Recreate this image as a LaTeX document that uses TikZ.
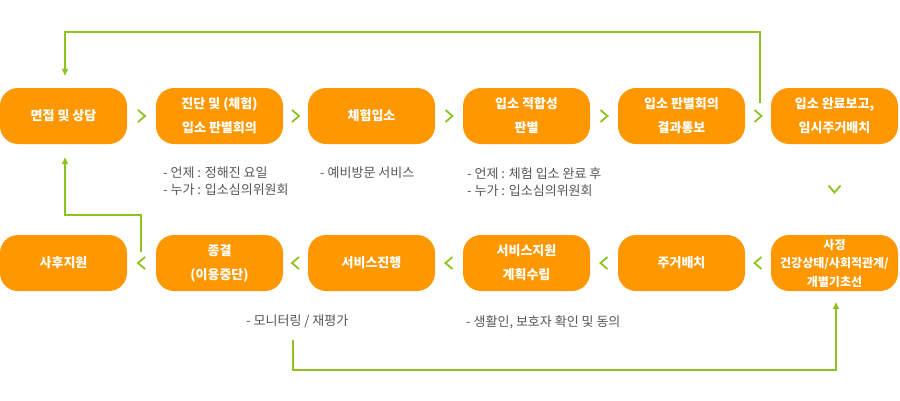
\documentclass[tikz,border=0pt]{standalone}
\usepackage{fontspec}
\setmainfont{Noto Sans CJK KR}
\newfontfamily\kr{Noto Sans CJK KR}
\usetikzlibrary{calc,arrows.meta}
\definecolor{boxor}{HTML}{FF9800}
\definecolor{lgreen}{HTML}{8DC21F}
\definecolor{txtgray}{HTML}{555555}
\tikzset{
  stepbox/.style={fill=boxor, draw=none, rounded corners=18pt, minimum width=127pt, minimum height=56pt,
    text=white, align=center, font=\kr\bfseries\fontsize{13}{24}\selectfont, inner sep=0pt},
  smallbox/.style={stepbox, font=\kr\bfseries\fontsize{12}{18.5}\selectfont},
  note/.style={anchor=north west, align=left, text=txtgray, font=\kr\fontsize{13}{17}\selectfont, inner sep=0pt},
  chev/.style={draw=lgreen, line width=1.8pt, line cap=butt, line join=miter},
  loop/.style={draw=lgreen, line width=2pt},
  looparrow/.style={loop, -{Triangle[width=6pt,length=7pt]}},
}
\begin{document}
\begin{tikzpicture}[x=1pt,y=-1pt]
\useasboundingbox (0,0) rectangle (900,400);
% top row
\node[stepbox] (b1) at (63.5,116) {면접 및 상담};
\node[stepbox] (b2) at (219.5,116) {진단 및 (체험)\\입소 판별회의};
\node[stepbox] (b3) at (371.5,116) {체험입소};
\node[stepbox] (b4) at (526.5,116) {입소 적합성\\판별};
\node[stepbox] (b5) at (681.5,116) {입소 판별회의\\결과통보};
\node[stepbox] (b6) at (834.5,116) {입소 완료보고,\\임시주거배치};
% bottom row
\node[stepbox] (c1) at (63.5,263) {사후지원};
\node[stepbox] (c2) at (219.5,263) {종결\\(이용중단)};
\node[stepbox] (c3) at (371.5,263) {서비스진행};
\node[stepbox] (c4) at (526.5,263) {서비스지원\\계획수립};
\node[stepbox] (c5) at (681.5,263) {주거배치};
\node[smallbox] (c6) at (834.5,263) {사정\\건강상태/사회적관계/\\개별기초선};
% notes
\node[note] (n1) at (163,167) {- 언제 : 정해진 요일\\- 누가 : 입소심의위원회};
\node[note] (n2) at (320,167) {- 예비방문 서비스};
\node[note] (n3) at (467,167) {- 언제 : 체험 입소 완료 후\\- 누가 : 입소심의위원회};
\node[note] (n4) at (246,315) {- 모니터링 / 재평가};
\node[note] (n5) at (466,315) {- 생활인, 보호자 확인 및 동의};
% chevrons top (>)
\foreach \a/\b in {b1/b2,b2/b3,b3/b4,b4/b5,b5/b6}{
  \draw[chev] ($(\a.east)!0.5!(\b.west)+(-3.5,-6)$) -- ++(7,6) -- ++(-7,6);
}
% chevrons bottom (<)
\foreach \a/\b in {c1/c2,c2/c3,c3/c4,c4/c5,c5/c6}{
  \draw[chev] ($(\a.east)!0.5!(\b.west)+(3.5,-6)$) -- ++(-7,6) -- ++(7,6);
}
% down chevron
\draw[chev] ($(b6.south)!0.5!(c6.north)+(-6,-4)$) -- ++(6,7) -- ++(6,-7);
% loops
\coordinate (t0) at (760,103);
\coordinate (t1) at (760,32);
\coordinate (t2) at (65,32);
\draw[looparrow] (t0) -- (t1) -- (t2) -- ($(b1.north -| t2)+(0,-12)$);
\coordinate (l0) at (141,252);
\coordinate (l1) at (141,215);
\coordinate (l2) at (65,215);
\draw[looparrow] (l0) -- (l1) -- (l2) -- ($(b1.south -| l2)+(0,13)$);
\coordinate (r0) at (293,340);
\coordinate (r1) at (293,370);
\coordinate (r2) at (836,370);
\draw[looparrow] (r0) -- (r1) -- (r2) -- ($(c6.south -| r2)+(0,11)$);
\end{tikzpicture}
\end{document}
